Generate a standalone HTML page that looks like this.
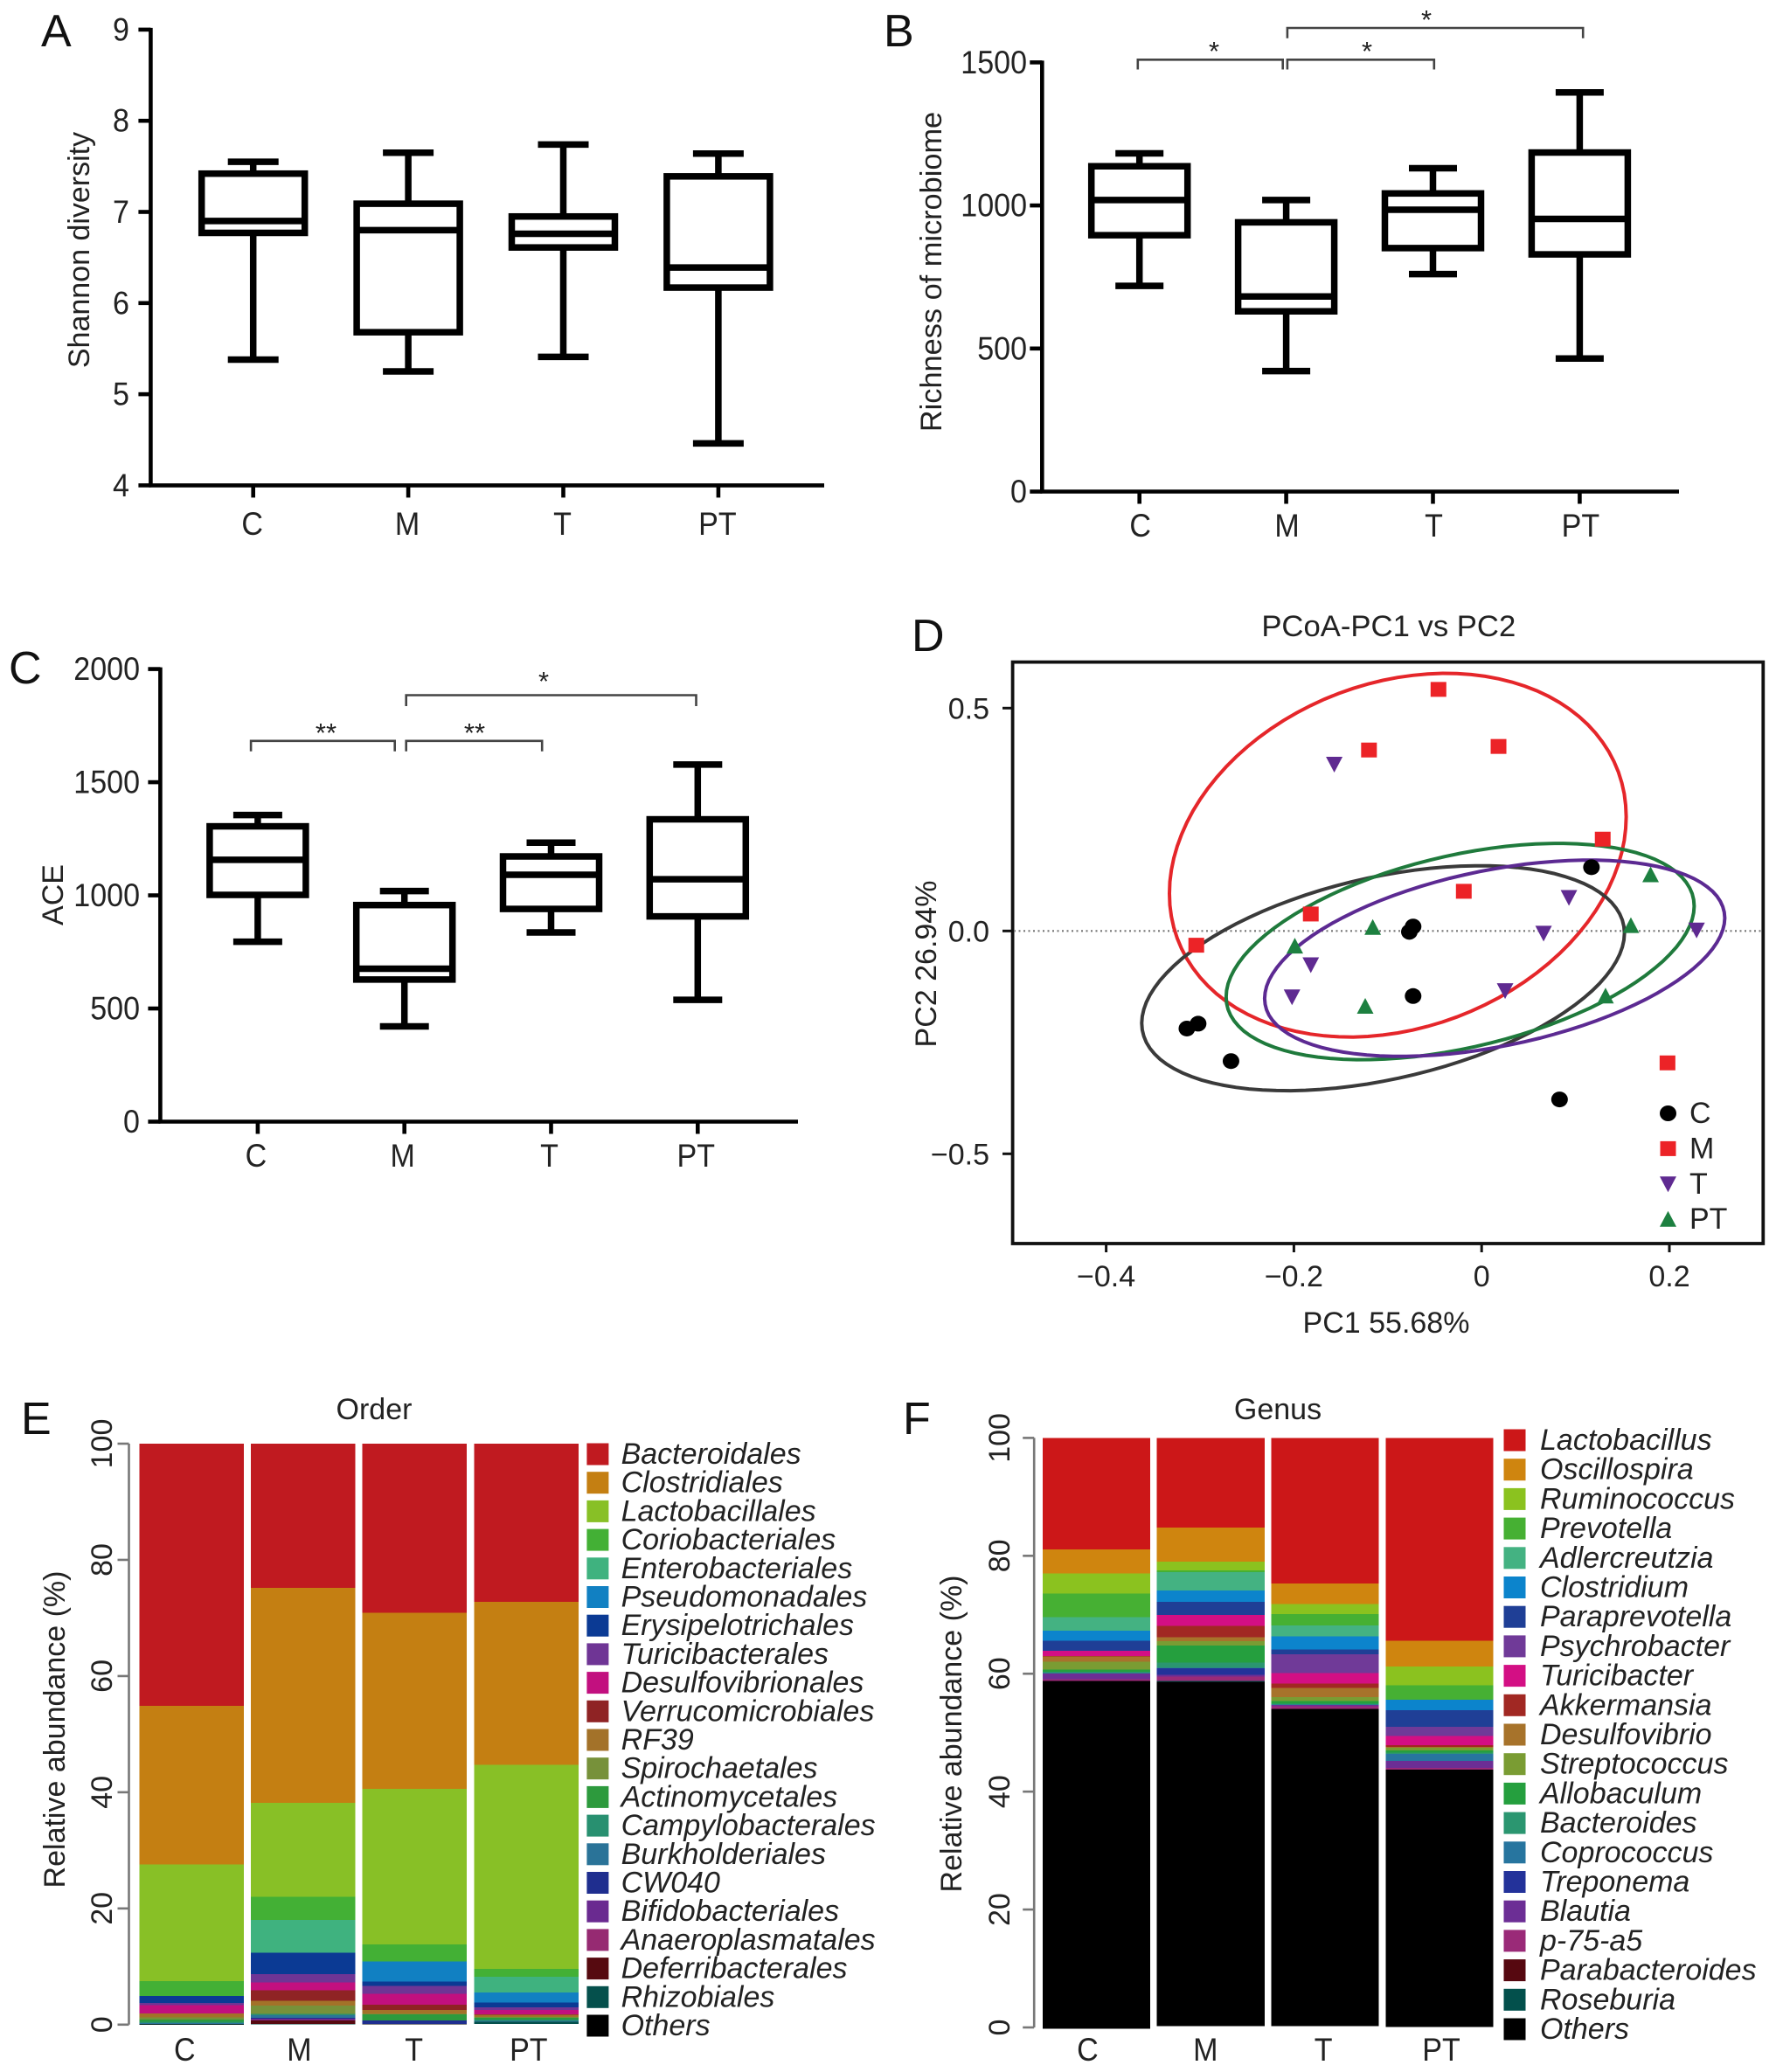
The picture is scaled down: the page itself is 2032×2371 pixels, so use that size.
<!DOCTYPE html>
<html lang="en">
<head>
<meta charset="utf-8">
<title>Microbiome diversity figure</title>
<style>
html,body{margin:0;padding:0;background:#fff;}
svg{display:block;}
text{font-family:"Liberation Sans",sans-serif;fill:#222;}
.panel{font-size:52px;fill:#111;}
.lab{font-size:34px;}
.star{font-size:31px;fill:#222;}
.br{fill:none;stroke:#444;stroke-width:2.6;}
</style>
</head>
<body>
<svg id="fig" width="2032" height="2371" viewBox="0 0 2032 2371">
<rect x="0" y="0" width="2032" height="2371" fill="#fff"/>

<text class="panel" x="47" y="53">A</text>
<text class="panel" x="1011" y="53">B</text>
<text class="panel" x="10" y="782">C</text>
<text class="panel" x="1043" y="745">D</text>
<text class="panel" x="24" y="1641">E</text>
<text class="panel" x="1033" y="1641">F</text>

<g id="panelA">
  <text class="lab" transform="translate(102 286) rotate(-90)" text-anchor="middle">Shannon diversity</text>
</g>
<g id="panelB">
  <text class="lab" transform="translate(1077 311) rotate(-90) scale(1.01 1)" text-anchor="middle">Richness of microbiome</text>
  <path class="br" d="M1301.8 79.5V68.3H1467.7V79.5"/>
  <path class="br" d="M1472.9 79.5V68.3H1640.8V79.5"/>
  <path class="br" d="M1472.9 43.8V32H1811.2V43.8"/>
  <text class="star" x="1389" y="69" text-anchor="middle">*</text>
  <text class="star" x="1564" y="69" text-anchor="middle">*</text>
  <text class="star" x="1632" y="33" text-anchor="middle">*</text>
</g>
<g id="panelC">
  <text class="lab" transform="translate(72 1024) rotate(-90)" text-anchor="middle">ACE</text>
  <path class="br" d="M287.1 859.8V847.8H451.7V859.8"/>
  <path class="br" d="M464.7 859.8V847.8H620.2V859.8"/>
  <path class="br" d="M464.7 808V795.5H796.5V808"/>
  <text class="star" x="373" y="849" text-anchor="middle">**</text>
  <text class="star" x="543" y="849" text-anchor="middle">**</text>
  <text class="star" x="622" y="790" text-anchor="middle">*</text>
</g>
<g id="panelD">
  <text class="lab" x="1589" y="728" text-anchor="middle" transform="translate(-32 0) scale(1.02 1)">PCoA-PC1 vs PC2</text>
  <text class="lab" x="1586" y="1525" text-anchor="middle">PC1 55.68%</text>
  <text class="lab" transform="translate(1071 1103) rotate(-90)" text-anchor="middle">PC2 26.94%</text>
</g>
<g id="panelE">
  <text class="lab" x="428" y="1624" text-anchor="middle">Order</text>
  <text class="lab" transform="translate(74 1979) rotate(-90)" text-anchor="middle">Relative abundance (%)</text>
</g>
<g id="panelF">
  <text class="lab" x="1462" y="1624" text-anchor="middle">Genus</text>
  <text class="lab" transform="translate(1100 1984) rotate(-90)" text-anchor="middle">Relative abundance (%)</text>
</g>
</svg>

<script>
// ---------- shared categories ----------
const groups = ['C', 'M', 'T', 'PT'];

// ---------- panel A data ----------
const shannonTicks = [4, 5, 6, 7, 8, 9];
const shannonMax = [7.55, 7.65, 7.74, 7.64];
const shannonQ3 = [7.42, 7.09, 6.95, 7.39];
const shannonMedian = [6.90, 6.80, 6.76, 6.39];
const shannonQ1 = [6.77, 5.68, 6.61, 6.17];
const shannonMin = [5.38, 5.25, 5.41, 4.46];

// ---------- panel B data ----------
const richnessTicks = [0, 500, 1000, 1500];
const richnessMax = [1182, 1019, 1130, 1395];
const richnessQ3 = [1137, 941, 1042, 1185];
const richnessMedian = [1019, 682, 985, 953];
const richnessQ1 = [896, 630, 851, 829];
const richnessMin = [719, 421, 760, 465];

// ---------- panel C data ----------
const aceTicks = [0, 500, 1000, 1500, 2000];
const aceMax = [1355, 1019, 1233, 1578];
const aceQ3 = [1305, 957, 1172, 1336];
const aceMedian = [1157, 676, 1091, 1071];
const aceQ1 = [1002, 628, 940, 907];
const aceMin = [795, 421, 836, 538];

// ---------- panel D data ----------
const pc1TickValues = [-0.4, -0.2, 0, 0.2];
const pc1TickLabels = ['\u22120.4', '\u22120.2', '0', '0.2'];
const pc2TickValues = [0.5, 0, -0.5];
const pc2TickLabels = ['0.5', '0.0', '\u22120.5'];
const cPc1 = [-0.314, -0.302, -0.267, -0.077, -0.073, -0.073, 0.083, 0.117];
const cPc2 = [-0.219, -0.208, -0.292, -0.002, 0.010, -0.146, -0.378, 0.143];
const mPc1 = [-0.046, -0.120, 0.018, 0.129, -0.019, -0.182, -0.304, 0.198];
const mPc2 = [0.542, 0.406, 0.414, 0.206, 0.089, 0.038, -0.032, -0.296];
const tPc1 = [-0.157, 0.093, 0.066, 0.229, -0.182, -0.202, 0.025];
const tPc2 = [0.374, 0.075, -0.005, 0.002, -0.076, -0.148, -0.134];
const ptPc1 = [0.180, 0.159, -0.116, -0.199, -0.124, 0.132];
const ptPc2 = [0.126, 0.012, 0.008, -0.034, -0.169, -0.146];
// ellipse order: M, C, PT, T
const ellipseGroups = ['M', 'C', 'PT', 'T'];
const ellipseCenterPc1 = [-0.0893, -0.105, -0.0229, 0.0139];
const ellipseCenterPc2 = [0.170, -0.106, -0.0462, -0.0612];
const ellipseSpreadPc1 = [0.2433, 0.2571, 0.2493, 0.2451];
const ellipseSpreadPc2 = [0.408, 0.2524, 0.2427, 0.2202];
const ellipseCorrelation = [0.211, 0.40, 0.42, 0.41];

// ---------- panel E data (values for C, M, T, PT) ----------
const orderTicks = [0, 20, 40, 60, 80, 100];
const orderNames = ['Bacteroidales', 'Clostridiales', 'Lactobacillales', 'Coriobacteriales', 'Enterobacteriales', 'Pseudomonadales', 'Erysipelotrichales', 'Turicibacterales', 'Desulfovibrionales', 'Verrucomicrobiales', 'RF39', 'Spirochaetales', 'Actinomycetales', 'Campylobacterales', 'Burkholderiales', 'CW040', 'Bifidobacteriales', 'Anaeroplasmatales', 'Deferribacterales', 'Rhizobiales', 'Others'];
const orderColors = ['#c01a20', '#c47f12', '#88c026', '#43b035', '#3fb27f', '#1180c2', '#0b3a94', '#6f3595', '#c2107f', '#8f2324', '#a37229', '#77913a', '#2d9a3d', '#289070', '#2a7398', '#1f2e8f', '#6a2a90', '#962a72', '#560a10', '#05504c', '#000000'];
const oBacteroidales = [45.1, 24.8, 29.1, 27.2];
const oClostridiales = [27.3, 37.0, 30.3, 28.1];
const oLactobacillales = [20.1, 16.2, 26.8, 35.1];
const oCoriobacteriales = [2.6, 4.0, 2.9, 1.35];
const oEnterobacteriales = [0, 5.6, 0, 2.75];
const oPseudomonadales = [0, 0, 3.5, 1.7];
const oErysipelotrichales = [1.15, 3.7, 0.7, 0.8];
const oTuricibacterales = [0.4, 1.4, 1.4, 0.5];
const oDesulfovibrionales = [1.45, 1.4, 1.9, 0.7];
const oVerrucomicrobiales = [0, 1.8, 0.9, 0.1];
const oRF39 = [0.65, 0.8, 0.65, 0.35];
const oSpirochaetales = [0.35, 1.45, 0.1, 0.2];
const oActinomycetales = [0.4, 0, 1.0, 0.3];
const oCampylobacterales = [0.2, 0.2, 0, 0.2];
const oBurkholderiales = [0.2, 0.45, 0, 0.15];
const oCW040 = [0, 0.15, 0.6, 0];
const oBifidobacteriales = [0, 0.25, 0, 0];
const oAnaeroplasmatales = [0, 0.1, 0, 0];
const oDeferribacterales = [0, 0.6, 0.05, 0];
const oRhizobiales = [0.05, 0.05, 0, 0.4];
const oOthers = [0.1, 0, 0.05, 0];
const orderSeries = [oBacteroidales, oClostridiales, oLactobacillales, oCoriobacteriales, oEnterobacteriales, oPseudomonadales, oErysipelotrichales, oTuricibacterales, oDesulfovibrionales, oVerrucomicrobiales, oRF39, oSpirochaetales, oActinomycetales, oCampylobacterales, oBurkholderiales, oCW040, oBifidobacteriales, oAnaeroplasmatales, oDeferribacterales, oRhizobiales, oOthers];

// ---------- panel F data (values for C, M, T, PT) ----------
const genusTicks = [0, 20, 40, 60, 80, 100];
const genusNames = ['Lactobacillus', 'Oscillospira', 'Ruminococcus', 'Prevotella', 'Adlercreutzia', 'Clostridium', 'Paraprevotella', 'Psychrobacter', 'Turicibacter', 'Akkermansia', 'Desulfovibrio', 'Streptococcus', 'Allobaculum', 'Bacteroides', 'Coprococcus', 'Treponema', 'Blautia', 'p-75-a5', 'Parabacteroides', 'Roseburia', 'Others'];
const genusColors = ['#cc1718', '#cf850f', '#8bc21f', '#46b033', '#44b282', '#0c84cc', '#1f3f96', '#703a98', '#d30f84', '#a12823', '#a7732b', '#7a9c33', '#259f3e', '#2b9670', '#27759f', '#23329a', '#6c2e95', '#9a2a78', '#560810', '#03504c', '#000000'];
const gLactobacillus = [18.9, 15.2, 24.7, 34.4];
const gOscillospira = [4.1, 5.8, 3.5, 4.4];
const gRuminococcus = [3.4, 1.5, 1.7, 3.2];
const gPrevotella = [4.0, 0.3, 1.9, 2.4];
const gAdlercreutzia = [2.3, 3.1, 1.9, 0];
const gClostridium = [1.7, 1.9, 2.2, 1.8];
const gParaprevotella = [1.7, 2.2, 0.8, 2.8];
const gPsychrobacter = [0, 0, 3.2, 1.6];
const gTuricibacter = [0.9, 1.9, 1.8, 1.5];
const gAkkermansia = [0.1, 1.9, 0.7, 0.3];
const gDesulfovibrio = [0.9, 0.7, 1.6, 0.2];
const gStreptococcus = [1.3, 0.7, 0.6, 0.4];
const gAllobaculum = [0.4, 2.9, 0.5, 0.4];
const gBacteroides = [0.2, 0.9, 0.1, 0.2];
const gCoprococcus = [0.1, 0.1, 0.1, 1.2];
const gTreponema = [0, 1.1, 0, 0];
const gBlautia = [0.9, 0.3, 0.2, 1.2];
const gP75a5 = [0.3, 0.7, 0.5, 0.3];
const gParabacteroides = [0, 0, 0, 0];
const gRoseburia = [0, 0.2, 0, 0];
const gOthers = [59.0, 58.4, 53.8, 43.6];
const genusSeries = [gLactobacillus, gOscillospira, gRuminococcus, gPrevotella, gAdlercreutzia, gClostridium, gParaprevotella, gPsychrobacter, gTuricibacter, gAkkermansia, gDesulfovibrio, gStreptococcus, gAllobaculum, gBacteroides, gCoprococcus, gTreponema, gBlautia, gP75a5, gParabacteroides, gRoseburia, gOthers];

// ---------- drawing helpers ----------
const svgRoot = document.getElementById('fig');
const NS = svgRoot.namespaceURI;

function make(parent, tag, attrs) {
  const el = document.createElementNS(NS, tag);
  for (const k in attrs) el.setAttribute(k, attrs[k]);
  parent.appendChild(el);
  return el;
}

function linearScale(v0, p0, v1, p1) {
  return function (v) { return p0 + (v - v0) * (p1 - p0) / (v1 - v0); };
}

function label(parent, x, y, content, anchor, name, rotate, italic) {
  const el = make(parent, 'text', { x: x, y: y, 'text-anchor': anchor, 'font-size': 34 });
  if (rotate) el.setAttribute('transform', 'rotate(-90 ' + x + ' ' + y + ')');
  if (italic) el.setAttribute('font-style', 'italic');
  el.textContent = content;
  
  
  return el;
}

// horizontal label drawn slightly taller and narrower, as in the reference
function tallLabel(parent, x, y, content, anchor, name) {
  const el = make(parent, 'text', { 'text-anchor': anchor, 'font-size': 37, transform: 'translate(' + x + ' ' + y + ') scale(0.92 1)' });
  el.textContent = content;
  
  
  return el;
}

function drawBoxPanel(id, o, ticks, maxs, q3s, meds, q1s, mins) {
  const g = document.getElementById(id);
  const y = linearScale(o.vMin, o.pMin, o.vMax, o.pMax);
  const x = function (i) { return o.x0 + i * o.step; };
  const ink = '#000';
  const yAxis = make(g, 'line', { x1: o.axisX, x2: o.axisX, y1: y(o.vMax) - 2, y2: y(o.vMin) + 2, stroke: ink, 'stroke-width': 4.6 });
  
  
  const xAxis = make(g, 'line', { x1: o.axisX - 2, x2: o.axisEnd, y1: y(o.vMin), y2: y(o.vMin), stroke: ink, 'stroke-width': 4.6 });
  
  
  ticks.forEach(function (t) {
    const tick = make(g, 'line', { x1: o.axisX - 14, x2: o.axisX, y1: y(t), y2: y(t), stroke: ink, 'stroke-width': 4.6 });
    
    
    tallLabel(g, o.labelRight, y(t) + 12.5, String(t), 'end', 'y-tick-label-' + t);
  });
  groups.forEach(function (name, i) {
    const cx = x(i);
    const tick = make(g, 'line', { x1: cx, x2: cx, y1: y(o.vMin), y2: y(o.vMin) + 14, stroke: ink, 'stroke-width': 4.6 });
    
    
    tallLabel(g, cx + o.labelShift, o.labelY, name, 'middle', 'x-tick-label-' + name.toLowerCase());

    const hw = o.boxWidth / 2;
    const cw = o.capWidth / 2;
    const whisker = make(g, 'path', {
      d: 'M' + cx + ' ' + y(q3s[i]) + 'V' + y(maxs[i]) + 'M' + cx + ' ' + y(q1s[i]) + 'V' + y(mins[i]),
      stroke: ink, 'stroke-width': 7.5, fill: 'none'
    });
    
    
    const caps = make(g, 'path', {
      d: 'M' + (cx - cw) + ' ' + y(maxs[i]) + 'H' + (cx + cw) + 'M' + (cx - cw) + ' ' + y(mins[i]) + 'H' + (cx + cw),
      stroke: ink, 'stroke-width': 7.5, fill: 'none'
    });
    
    
    const box = make(g, 'rect', {
      x: cx - hw + 3.5, y: y(q3s[i]), width: o.boxWidth - 7, height: y(q1s[i]) - y(q3s[i]),
      fill: '#fff', stroke: ink, 'stroke-width': 7.5
    });
    
    
    const med = make(g, 'line', { x1: cx - hw + 3, x2: cx + hw - 3, y1: y(meds[i]), y2: y(meds[i]), stroke: ink, 'stroke-width': 7.5 });
    
    
  });
}

drawBoxPanel('panelA', { vMin: 4, pMin: 555.4, vMax: 9, pMax: 33.9, x0: 289.7, step: 177.4, axisX: 172.4, axisEnd: 943, labelRight: 148, labelY: 612, labelShift: -1, boxWidth: 125, capWidth: 58 }, shannonTicks, shannonMax, shannonQ3, shannonMedian, shannonQ1, shannonMin);
drawBoxPanel('panelB', { vMin: 0, pMin: 562.5, vMax: 1500, pMax: 71.4, x0: 1303.7, step: 167.9, axisX: 1192.3, axisEnd: 1921, labelRight: 1175, labelY: 614, labelShift: 1, boxWidth: 117, capWidth: 55 }, richnessTicks, richnessMax, richnessQ3, richnessMedian, richnessQ1, richnessMin);
drawBoxPanel('panelC', { vMin: 0, pMin: 1283.5, vMax: 2000, pMax: 765.6, x0: 294.9, step: 167.8, axisX: 183.4, axisEnd: 913, labelRight: 160, labelY: 1335, labelShift: -2, boxWidth: 117, capWidth: 56 }, aceTicks, aceMax, aceQ3, aceMedian, aceQ1, aceMin);

// ---------- panel D ----------
(function () {
  const g = document.getElementById('panelD');
  const xS = linearScale(0, 1695.2, 0.2, 1910);
  const yS = linearScale(0, 1065.3, 0.5, 810.3);
  const frame = make(g, 'rect', { x: 1158.6, y: 757.6, width: 858.7, height: 665.4, fill: 'none', stroke: '#111', 'stroke-width': 3.8 });
  
  
  const zero = make(g, 'line', { x1: 1160, x2: 2016, y1: yS(0), y2: yS(0), stroke: '#777', 'stroke-width': 2.2, 'stroke-dasharray': '2 3.5' });
  
  
  pc1TickValues.forEach(function (v, i) {
    const t = make(g, 'line', { x1: xS(v), x2: xS(v), y1: 1423, y2: 1433, stroke: '#111', 'stroke-width': 3 });
    
    
    label(g, xS(v), 1472, pc1TickLabels[i], 'middle', 'x-tick-label');
  });
  pc2TickValues.forEach(function (v, i) {
    const t = make(g, 'line', { x1: 1147, x2: 1158.6, y1: yS(v), y2: yS(v), stroke: '#111', 'stroke-width': 3 });
    
    
    label(g, 1132, yS(v) + 12, pc2TickLabels[i], 'end', 'y-tick-label');
  });

  const strokeFor = { C: '#3a3a3a', M: '#e5262a', T: '#5c2a92', PT: '#1f7a3c' };
  ellipseGroups.forEach(function (name, i) {
    let d = '';
    const r = ellipseCorrelation[i];
    const s = Math.sqrt(1 - r * r);
    for (let k = 0; k <= 96; k++) {
      const a = k / 96 * 2 * Math.PI;
      const px = ellipseCenterPc1[i] + ellipseSpreadPc1[i] * Math.cos(a);
      const py = ellipseCenterPc2[i] + ellipseSpreadPc2[i] * (r * Math.cos(a) + s * Math.sin(a));
      d += (k ? 'L' : 'M') + xS(px).toFixed(1) + ' ' + yS(py).toFixed(1);
    }
    const e = make(g, 'path', { d: d + 'Z', fill: 'none', stroke: strokeFor[name], 'stroke-width': 4 });
    
    
  });

  function marker(kind, px, py, name) {
    let el;
    if (kind === 'C') {
      el = make(g, 'ellipse', { cx: px, cy: py, rx: 9.5, ry: 9, fill: '#000' });
    } else if (kind === 'M') {
      el = make(g, 'rect', { x: px - 9, y: py - 8.5, width: 18, height: 17, fill: '#ec2327' });
    } else if (kind === 'T') {
      el = make(g, 'path', { d: 'M' + (px - 9.5) + ' ' + (py - 8.5) + 'H' + (px + 9.5) + 'L' + px + ' ' + (py + 9.5) + 'Z', fill: '#5f2a91' });
    } else {
      el = make(g, 'path', { d: 'M' + (px - 9.5) + ' ' + (py + 8.5) + 'H' + (px + 9.5) + 'L' + px + ' ' + (py - 9.5) + 'Z', fill: '#1d8040' });
    }
    
    
  }
  cPc1.forEach(function (v, i) { marker('C', xS(v), yS(cPc2[i]), 'point-c'); });
  mPc1.forEach(function (v, i) { marker('M', xS(v), yS(mPc2[i]), 'point-m'); });
  tPc1.forEach(function (v, i) { marker('T', xS(v), yS(tPc2[i]), 'point-t'); });
  ptPc1.forEach(function (v, i) { marker('PT', xS(v), yS(ptPc2[i]), 'point-pt'); });

  groups.forEach(function (name, i) {
    const ly = 1274 + i * 40.4;
    marker(name, 1908.5, ly, 'legend-marker-' + name.toLowerCase());
    label(g, 1933, ly + 11, name, 'start', 'legend-label-' + name.toLowerCase());
  });
})();

// ---------- panels E and F ----------
function drawStack(id, o, ticks, names, colors, series) {
  const g = document.getElementById(id);
  const y = linearScale(0, o.base, 100, o.top);
  const axis = make(g, 'line', { x1: o.axisX, x2: o.axisX, y1: y(0), y2: y(100), stroke: '#777', 'stroke-width': 2.6 });
  
  
  ticks.forEach(function (t) {
    const tk = make(g, 'line', { x1: o.axisX - 13, x2: o.axisX, y1: y(t), y2: y(t), stroke: '#777', 'stroke-width': 2.6 });
    
    
    label(g, o.tickLabelX, y(t), String(t), 'middle', 'y-tick-label-' + t, true);
  });
  groups.forEach(function (name, i) {
    const bx = o.barX + i * o.barStep;
    let cum = 100;
    series.forEach(function (vals, s) {
      const v = vals[i];
      if (v <= 0) return;
      const rect = make(g, 'rect', { x: bx, y: y(cum), width: o.barWidth, height: y(cum - v) - y(cum), fill: colors[s], 'shape-rendering': 'crispEdges' });
      
      
      cum -= v;
    });
    tallLabel(g, bx + o.barWidth / 2 + o.labelShift + i * o.labelDrift, 2358, name, 'middle', 'x-tick-label-' + name.toLowerCase());
  });
  names.forEach(function (n, i) {
    const cy = o.legendTop + i * o.legendStep;
    const sw = make(g, 'rect', { x: o.swatchX, y: cy - 12.5, width: 25, height: 25, fill: colors[i] });
    
    
    label(g, o.legendTextX, cy + 11, n, 'start', 'legend-label-' + n.toLowerCase(), false, true);
  });
}

drawStack('panelE', { base: 2316.8, top: 1652, axisX: 147.5, tickLabelX: 128, barX: 159.5, barStep: 127.6, barWidth: 119.5, labelShift: -8, labelDrift: 3.6, legendTop: 1664, legendStep: 32.7, swatchX: 671.4, legendTextX: 710.6 }, orderTicks, orderNames, orderColors, orderSeries);
drawStack('panelF', { base: 2320, top: 1645.4, axisX: 1183.2, tickLabelX: 1155, barX: 1192.8, barStep: 130.9, barWidth: 123.1, labelShift: -10, labelDrift: 4, legendTop: 1648, legendStep: 33.7, swatchX: 1720.5, legendTextX: 1762 }, genusTicks, genusNames, genusColors, genusSeries);
</script>
</body>
</html>
